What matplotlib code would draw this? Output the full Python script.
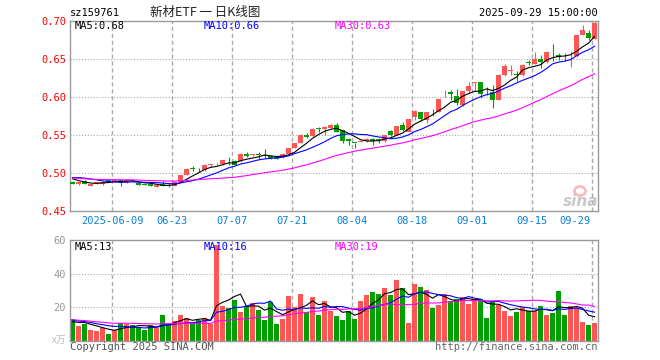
import numpy as np
import pandas as pd
import matplotlib
matplotlib.use('Agg')
import matplotlib.pyplot as plt
from matplotlib.patches import Ellipse

# tick positions (bar index) and labels
tick_idx = [7, 17, 27, 37, 47, 57, 67, 77, 87]
tick_lab = ['2025-06-09', '06-23', '07-07', '07-21', '08-04', '08-18', '09-01', '09-15', '09-29']

# daily bars, 2025-05-28 .. 2025-09-29
opens = [0.4886, 0.4851, 0.4900, 0.4833, 0.4855, 0.4855, 0.4903, 0.4886, 0.4908, 0.4877,
         0.4903, 0.4864, 0.4855, 0.4855, 0.4820, 0.4855, 0.4836, 0.4833, 0.4886, 0.4974,
         0.5058, 0.5040, 0.5035, 0.5108, 0.5116, 0.5118, 0.5158, 0.5162, 0.5154, 0.5254,
         0.5235, 0.5240, 0.5235, 0.5228, 0.5206, 0.5206, 0.5254, 0.5328, 0.5395, 0.5504,
         0.5482, 0.5585, 0.5583, 0.5592, 0.5636, 0.5560, 0.5452, 0.5397, 0.5408, 0.5417,
         0.5450, 0.5441, 0.5417, 0.5548, 0.5504, 0.5627, 0.5539, 0.5737, 0.5802, 0.5702,
         0.5805, 0.5802, 0.6037, 0.6070, 0.6018, 0.5890, 0.6075, 0.6180, 0.6197, 0.6078,
         0.6065, 0.5964, 0.6294, 0.6342, 0.6296, 0.6285, 0.6449, 0.6434, 0.6504, 0.6456,
         0.6590, 0.6548, 0.6537, 0.6533, 0.6535, 0.6820, 0.6842, 0.6768]
highs = [0.4895, 0.4880, 0.4905, 0.4860, 0.4880, 0.4895, 0.4912, 0.4915, 0.4912, 0.4912,
         0.4912, 0.4868, 0.4860, 0.4860, 0.4846, 0.4895, 0.4864, 0.4890, 0.4978, 0.5062,
         0.5088, 0.5062, 0.5115, 0.5118, 0.5130, 0.5171, 0.5206, 0.5166, 0.5258, 0.5276,
         0.5250, 0.5276, 0.5320, 0.5232, 0.5210, 0.5258, 0.5335, 0.5400, 0.5508, 0.5525,
         0.5587, 0.5605, 0.5612, 0.5640, 0.5660, 0.5565, 0.5456, 0.5399, 0.5430, 0.5454,
         0.5454, 0.5461, 0.5504, 0.5561, 0.5618, 0.5666, 0.5714, 0.5825, 0.5806, 0.5802,
         0.5846, 0.5978, 0.6088, 0.6088, 0.6110, 0.6079, 0.6198, 0.6200, 0.6201, 0.6131,
         0.6162, 0.6298, 0.6434, 0.6425, 0.6346, 0.6430, 0.6491, 0.6588, 0.6548, 0.6601,
         0.6697, 0.6579, 0.6579, 0.6610, 0.6824, 0.6943, 0.6886, 0.6996]
lows = [0.4850, 0.4845, 0.4850, 0.4830, 0.4850, 0.4845, 0.4890, 0.4880, 0.4830, 0.4870,
        0.4890, 0.4838, 0.4838, 0.4830, 0.4815, 0.4825, 0.4822, 0.4830, 0.4882, 0.4970,
        0.5030, 0.5010, 0.5030, 0.5075, 0.5100, 0.5110, 0.5110, 0.5105, 0.5150, 0.5210,
        0.5225, 0.5190, 0.5195, 0.5190, 0.5180, 0.5200, 0.5250, 0.5325, 0.5390, 0.5455,
        0.5478, 0.5545, 0.5500, 0.5588, 0.5535, 0.5395, 0.5364, 0.5330, 0.5404, 0.5413,
        0.5373, 0.5395, 0.5413, 0.5482, 0.5500, 0.5548, 0.5535, 0.5702, 0.5680, 0.5658,
        0.5745, 0.5798, 0.5996, 0.5965, 0.5899, 0.5886, 0.6053, 0.6075, 0.5986, 0.6030,
        0.5860, 0.5960, 0.6272, 0.6294, 0.6206, 0.6280, 0.6425, 0.6430, 0.6381, 0.6447,
        0.6478, 0.6491, 0.6469, 0.6390, 0.6522, 0.6812, 0.6755, 0.6764]
closes = [0.4855, 0.4877, 0.4855, 0.4855, 0.4877, 0.4886, 0.4899, 0.4912, 0.4864, 0.4908,
          0.4899, 0.4842, 0.4842, 0.4833, 0.4842, 0.4833, 0.4833, 0.4886, 0.4974, 0.5058,
          0.5053, 0.5035, 0.5110, 0.5112, 0.5121, 0.5167, 0.5154, 0.5110, 0.5254, 0.5220,
          0.5245, 0.5235, 0.5228, 0.5197, 0.5184, 0.5254, 0.5330, 0.5395, 0.5504, 0.5470,
          0.5583, 0.5580, 0.5605, 0.5636, 0.5540, 0.5417, 0.5417, 0.5395, 0.5425, 0.5450,
          0.5417, 0.5439, 0.5500, 0.5504, 0.5614, 0.5570, 0.5710, 0.5811, 0.5710, 0.5798,
          0.5800, 0.5974, 0.6041, 0.6035, 0.5921, 0.6075, 0.6149, 0.6197, 0.6039, 0.6074,
          0.5964, 0.6294, 0.6412, 0.6346, 0.6294, 0.6425, 0.6447, 0.6504, 0.6456, 0.6592,
          0.6588, 0.6526, 0.6535, 0.6537, 0.6820, 0.6877, 0.6777, 0.6970]
# volume in 万手
volumes = [12.8, 9.0, 9.8, 6.6, 6.0, 7.8, 4.2, 6.6, 10.8, 10.2,
           9.2, 8.4, 6.2, 9.2, 7.8, 15.4, 9.4, 11.8, 15.4, 13.8,
           10.6, 12.4, 13.8, 10.2, 57.4, 20.8, 19.4, 24.4, 17.2, 20.4,
           22.8, 18.4, 12.6, 23.4, 10.0, 13.2, 26.8, 20.4, 28.2, 17.4,
           26.2, 15.4, 24.0, 18.0, 14.8, 12.6, 17.8, 13.0, 24.0, 27.4,
           29.2, 28.2, 31.6, 27.4, 36.4, 31.6, 10.6, 34.0, 32.2, 30.4,
           19.8, 21.4, 28.2, 23.8, 25.2, 26.4, 22.2, 24.8, 25.0, 13.8,
           23.8, 21.4, 18.0, 15.0, 17.2, 20.0, 18.0, 18.0, 21.0, 15.6,
           16.8, 30.0, 15.6, 20.6, 19.4, 11.4, 9.4, 10.8]
# a few sessions before the window, only so the moving averages start right
pre_closes = [0.487, 0.489, 0.492, 0.496, 0.500, 0.502, 0.499, 0.495, 0.492, 0.490]
pre_volumes = [15, 14, 13, 12, 14, 13, 11, 10, 12, 11]

RED = '#ff5555'
GREEN = '#00a000'
GRID = '#aaaaaa'
MONO = 'DejaVu Sans Mono'

n = len(closes)
x = np.arange(n)
o = np.array(opens); c = np.array(closes)
up = c >= o
cols = np.where(up, RED, GREEN)

cs = pd.Series(pre_closes + closes)
vs = pd.Series(pre_volumes + volumes)
ma = {k: cs.rolling(k, min_periods=1).mean().values[-n:] for k in (5, 10, 30)}
vma = {k: vs.rolling(k, min_periods=1).mean().values[-n:] for k in (5, 10, 30)}

W, H = 660, 360
fig = plt.figure(figsize=(6.6, 3.6), dpi=100)
L, R = 70.3, 597.7
ax = fig.add_axes([L / W, 1 - 211 / H, (R - L) / W, 190 / H])
axv = fig.add_axes([L / W, 1 - 340.7 / H, (R - L) / W, 100.4 / H])

def fx(px):
    return px / W

def fy(py):
    return 1 - py / H

xlim = (-0.37, 87.53)
vx = [i - 0.37 for i in tick_idx]

# price panel
for a in (ax, axv):
    a.set_xlim(*xlim)
    for s in a.spines.values():
        s.set_color('#999999')
        s.set_linewidth(1.0)
    a.set_xticks([])
    a.tick_params(axis='y', length=0, pad=3)
    for v in vx:
        a.axvline(v, color=GRID, lw=1.0, ls=(0, (3, 2)), zorder=0)

ax.set_ylim(0.45, 0.70)
ax.set_yticks([0.45, 0.50, 0.55, 0.60, 0.65, 0.70])
ax.set_yticklabels(['0.45', '0.50', '0.55', '0.60', '0.65', '0.70'],
                   color='#ff0000', family=MONO, fontsize=7.5)
for yv in [0.50, 0.55, 0.60, 0.65]:
    ax.axhline(yv, color=GRID, lw=0.8, ls=(0, (1, 1.6)), zorder=0)

ax.vlines(x, lows, highs, colors=cols, lw=0.8, zorder=2)
body = np.maximum(np.abs(c - o), 0.0009)
ax.bar(x, body, bottom=np.minimum(o, c), width=0.8, color=cols, lw=0, zorder=3)

ax.plot(x, ma[5], color='black', lw=0.8, zorder=4)
ax.plot(x, ma[10], color='#0000ff', lw=0.8, zorder=4)
ax.plot(x, ma[30], color='#ff00ff', lw=0.8, zorder=4)

# date labels under the price panel
for i, (v, lab) in enumerate(zip(vx, tick_lab)):
    ha = 'right' if i == len(vx) - 1 else 'center'
    xx = v - 0.2 if ha == 'right' else v
    ax.text(xx, -0.052, lab, transform=ax.get_xaxis_transform(), ha=ha, va='center',
            color='#0a7fd6', family=MONO, fontsize=7.5)

# volume panel
axv.set_ylim(0, 60)
axv.set_yticks([20, 40, 60])
axv.set_yticklabels(['20', '40', '60'], color='#999999', family=MONO, fontsize=7.5)
for yv in [20, 40]:
    axv.axhline(yv, color=GRID, lw=0.8, ls=(0, (1, 1.6)), zorder=0)
axv.bar(x, volumes, width=0.83, color=cols, lw=0, zorder=2)
axv.plot(x, vma[5], color='black', lw=0.8, zorder=4)
axv.plot(x, vma[10], color='#0000ff', lw=0.8, zorder=4)
axv.plot(x, vma[30], color='#ff00ff', lw=0.8, zorder=4)

# header and labels
fig.text(fx(70), fy(13), 'sz159761', family=MONO, fontsize=7.5, va='center', ha='left')
fig.text(fx(150), fy(12), '新材ETF 一 日K线图', family=['Noto Sans CJK SC', 'DejaVu Sans'],
         fontsize=9, va='center', ha='left', color='#222222')
fig.text(fx(597.5), fy(13), '2025-09-29 15:00:00', family=MONO, fontsize=7.5,
         va='center', ha='right')

fig.text(fx(75), fy(26), 'MA5:0.68', family=MONO, fontsize=7.5, va='center', color='black')
fig.text(fx(204), fy(26), 'MA10:0.66', family=MONO, fontsize=7.5, va='center', color='#0000ff')
fig.text(fx(334.5), fy(26), 'MA30:0.63', family=MONO, fontsize=7.5, va='center', color='#ff00ff')

fig.text(fx(75), fy(246.5), 'MA5:13', family=MONO, fontsize=7.5, va='center', color='black')
fig.text(fx(204), fy(246.5), 'MA10:16', family=MONO, fontsize=7.5, va='center', color='#0000ff')
fig.text(fx(334.5), fy(246.5), 'MA30:19', family=MONO, fontsize=7.5, va='center', color='#ff00ff')

fig.text(fx(66), fy(340), 'x万', family=['Noto Sans CJK SC', 'DejaVu Sans'], fontsize=7,
         va='center', ha='right', color='#bbbbbb')
fig.text(fx(70), fy(347), 'Copyright 2025 SINA.COM', family=MONO, fontsize=7.5,
         va='center', ha='left', color='#555555')
fig.text(fx(597.5), fy(347), 'http://finance.sina.com.cn', family=MONO, fontsize=7.5,
         va='center', ha='right', color='#666666')

# sina watermark
fig.patches.append(Ellipse((fx(580), fy(191)), 11 / W, 9 / H, transform=fig.transFigure,
                           fill=False, ec='#f4a0a0', lw=2, alpha=0.7))
fig.text(fx(581), fy(201), 'sina', fontsize=11, fontstyle='italic', fontweight='bold',
         color='#bbbbbb', ha='center', va='center', alpha=0.8)

fig.savefig('out.png', dpi=100)
